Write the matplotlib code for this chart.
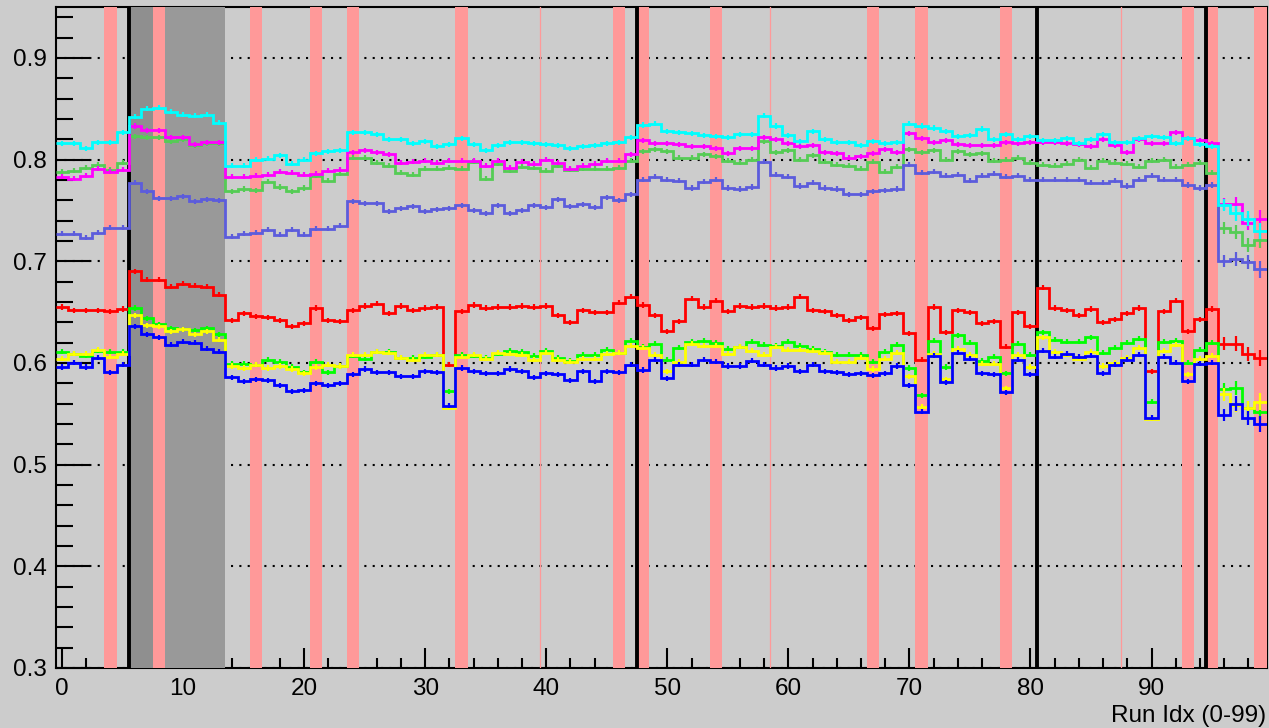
import matplotlib.pyplot as plt
import numpy as np

plt.rcParams['font.family'] = ['Liberation Sans', 'DejaVu Sans']

# run index (one bin per run)
run_idx = np.arange(100)

cyan_vals = [
    0.816, 0.816, 0.811, 0.817, 0.817, 0.827, 0.842, 0.850, 0.851, 0.847,
    0.844, 0.843, 0.844, 0.836, 0.794, 0.794, 0.800, 0.801, 0.804, 0.796,
    0.800, 0.806, 0.808, 0.809, 0.827, 0.827, 0.825, 0.820, 0.820, 0.816,
    0.818, 0.813, 0.815, 0.821, 0.815, 0.809, 0.814, 0.817, 0.817, 0.816,
    0.815, 0.814, 0.811, 0.813, 0.814, 0.816, 0.817, 0.822, 0.834, 0.835,
    0.828, 0.827, 0.826, 0.824, 0.823, 0.822, 0.825, 0.825, 0.843, 0.833,
    0.824, 0.818, 0.828, 0.820, 0.817, 0.817, 0.814, 0.818, 0.816, 0.817,
    0.835, 0.833, 0.831, 0.828, 0.823, 0.824, 0.830, 0.820, 0.825, 0.820,
    0.823, 0.819, 0.819, 0.821, 0.816, 0.820, 0.825, 0.817, 0.817, 0.821,
    0.823, 0.822, 0.816, 0.821, 0.815, 0.813, 0.755, 0.747, 0.742, 0.730,
]
magenta_vals = [
    0.783, 0.781, 0.784, 0.791, 0.788, 0.790, 0.833, 0.829, 0.829, 0.822,
    0.822, 0.815, 0.817, 0.817, 0.783, 0.783, 0.784, 0.785, 0.788, 0.787,
    0.785, 0.786, 0.789, 0.790, 0.807, 0.809, 0.807, 0.805, 0.797, 0.798,
    0.799, 0.797, 0.799, 0.799, 0.799, 0.794, 0.799, 0.792, 0.798, 0.796,
    0.800, 0.797, 0.791, 0.794, 0.796, 0.799, 0.799, 0.805, 0.819, 0.816,
    0.816, 0.815, 0.813, 0.813, 0.811, 0.806, 0.811, 0.811, 0.822, 0.820,
    0.816, 0.813, 0.814, 0.807, 0.806, 0.802, 0.803, 0.806, 0.810, 0.807,
    0.826, 0.821, 0.817, 0.819, 0.815, 0.814, 0.814, 0.814, 0.817, 0.816,
    0.817, 0.817, 0.817, 0.816, 0.815, 0.813, 0.820, 0.814, 0.807, 0.820,
    0.816, 0.816, 0.827, 0.821, 0.819, 0.816, 0.756, 0.756, 0.738, 0.742,
]
lgreen_vals = [
    0.788, 0.789, 0.792, 0.795, 0.790, 0.797, 0.823, 0.822, 0.822, 0.818,
    0.820, 0.814, 0.816, 0.816, 0.769, 0.771, 0.770, 0.778, 0.773, 0.769,
    0.772, 0.784, 0.779, 0.786, 0.802, 0.802, 0.797, 0.794, 0.787, 0.785,
    0.791, 0.791, 0.792, 0.791, 0.798, 0.781, 0.796, 0.789, 0.793, 0.792,
    0.789, 0.794, 0.790, 0.791, 0.791, 0.791, 0.792, 0.799, 0.808, 0.810,
    0.808, 0.802, 0.802, 0.805, 0.803, 0.799, 0.797, 0.800, 0.818, 0.807,
    0.809, 0.800, 0.804, 0.798, 0.795, 0.794, 0.791, 0.798, 0.788, 0.793,
    0.810, 0.807, 0.809, 0.800, 0.808, 0.805, 0.806, 0.799, 0.800, 0.802,
    0.797, 0.795, 0.794, 0.796, 0.800, 0.792, 0.799, 0.797, 0.796, 0.793,
    0.799, 0.800, 0.793, 0.795, 0.797, 0.787, 0.733, 0.729, 0.716, 0.721,
]
slate_vals = [
    0.727, 0.727, 0.723, 0.728, 0.733, 0.733, 0.777, 0.769, 0.762, 0.762,
    0.764, 0.759, 0.761, 0.760, 0.724, 0.727, 0.728, 0.731, 0.726, 0.731,
    0.726, 0.732, 0.732, 0.735, 0.759, 0.757, 0.757, 0.749, 0.752, 0.754,
    0.749, 0.751, 0.752, 0.755, 0.750, 0.747, 0.755, 0.747, 0.750, 0.755,
    0.753, 0.761, 0.754, 0.756, 0.753, 0.763, 0.760, 0.766, 0.780, 0.783,
    0.780, 0.779, 0.772, 0.778, 0.780, 0.772, 0.771, 0.773, 0.798, 0.785,
    0.783, 0.774, 0.777, 0.772, 0.771, 0.766, 0.766, 0.769, 0.770, 0.771,
    0.795, 0.787, 0.788, 0.784, 0.785, 0.779, 0.784, 0.786, 0.783, 0.784,
    0.780, 0.780, 0.780, 0.780, 0.780, 0.777, 0.777, 0.779, 0.774, 0.780,
    0.784, 0.780, 0.780, 0.775, 0.772, 0.775, 0.700, 0.702, 0.699, 0.692,
]
red_vals = [
    0.655, 0.652, 0.652, 0.652, 0.651, 0.653, 0.690, 0.682, 0.682, 0.675,
    0.678, 0.676, 0.675, 0.667, 0.642, 0.649, 0.646, 0.645, 0.642, 0.636,
    0.639, 0.654, 0.642, 0.641, 0.652, 0.656, 0.658, 0.649, 0.656, 0.652,
    0.654, 0.655, 0.598, 0.651, 0.657, 0.654, 0.655, 0.655, 0.656, 0.655,
    0.656, 0.647, 0.640, 0.652, 0.650, 0.650, 0.659, 0.665, 0.657, 0.647,
    0.631, 0.641, 0.663, 0.655, 0.661, 0.651, 0.656, 0.655, 0.656, 0.654,
    0.655, 0.665, 0.652, 0.651, 0.647, 0.642, 0.645, 0.634, 0.648, 0.649,
    0.629, 0.603, 0.655, 0.630, 0.652, 0.650, 0.639, 0.641, 0.616, 0.650,
    0.636, 0.674, 0.654, 0.652, 0.647, 0.653, 0.640, 0.643, 0.649, 0.654,
    0.592, 0.651, 0.661, 0.631, 0.643, 0.653, 0.619, 0.619, 0.609, 0.605,
]
green_vals = [
    0.611, 0.609, 0.607, 0.612, 0.611, 0.611, 0.654, 0.644, 0.638, 0.634,
    0.633, 0.632, 0.634, 0.628, 0.599, 0.599, 0.598, 0.603, 0.601, 0.596,
    0.591, 0.601, 0.591, 0.597, 0.607, 0.604, 0.611, 0.611, 0.605, 0.605,
    0.606, 0.608, 0.572, 0.608, 0.607, 0.605, 0.609, 0.612, 0.611, 0.607,
    0.612, 0.605, 0.602, 0.608, 0.608, 0.613, 0.610, 0.622, 0.616, 0.619,
    0.603, 0.615, 0.621, 0.622, 0.620, 0.614, 0.616, 0.621, 0.618, 0.617,
    0.621, 0.617, 0.614, 0.611, 0.608, 0.608, 0.608, 0.601, 0.611, 0.618,
    0.595, 0.568, 0.622, 0.596, 0.627, 0.620, 0.602, 0.606, 0.590, 0.619,
    0.608, 0.630, 0.623, 0.621, 0.621, 0.625, 0.610, 0.615, 0.620, 0.624,
    0.562, 0.621, 0.622, 0.600, 0.613, 0.620, 0.574, 0.575, 0.556, 0.552,
]
yellow_vals = [
    0.604, 0.609, 0.609, 0.613, 0.606, 0.609, 0.647, 0.637, 0.636, 0.631,
    0.633, 0.628, 0.631, 0.623, 0.597, 0.595, 0.598, 0.595, 0.597, 0.594,
    0.590, 0.596, 0.598, 0.597, 0.608, 0.608, 0.611, 0.610, 0.605, 0.603,
    0.608, 0.608, 0.556, 0.606, 0.608, 0.604, 0.610, 0.609, 0.608, 0.603,
    0.610, 0.603, 0.601, 0.604, 0.604, 0.609, 0.610, 0.617, 0.615, 0.608,
    0.592, 0.601, 0.619, 0.617, 0.617, 0.609, 0.616, 0.612, 0.608, 0.616,
    0.613, 0.613, 0.612, 0.610, 0.601, 0.601, 0.605, 0.594, 0.604, 0.610,
    0.587, 0.557, 0.609, 0.584, 0.614, 0.608, 0.599, 0.599, 0.575, 0.608,
    0.596, 0.625, 0.611, 0.608, 0.604, 0.611, 0.597, 0.600, 0.605, 0.615,
    0.545, 0.612, 0.618, 0.589, 0.604, 0.607, 0.569, 0.559, 0.556, 0.562,
]
blue_vals = [
    0.596, 0.600, 0.596, 0.605, 0.591, 0.598, 0.636, 0.628, 0.625, 0.618,
    0.621, 0.620, 0.614, 0.611, 0.586, 0.582, 0.584, 0.583, 0.578, 0.572,
    0.573, 0.580, 0.578, 0.580, 0.589, 0.594, 0.591, 0.591, 0.587, 0.587,
    0.592, 0.591, 0.558, 0.595, 0.592, 0.590, 0.590, 0.594, 0.592, 0.586,
    0.590, 0.589, 0.583, 0.592, 0.582, 0.592, 0.591, 0.598, 0.593, 0.603,
    0.585, 0.598, 0.598, 0.603, 0.601, 0.597, 0.597, 0.602, 0.598, 0.595,
    0.597, 0.592, 0.598, 0.592, 0.591, 0.589, 0.590, 0.588, 0.590, 0.597,
    0.578, 0.552, 0.607, 0.581, 0.610, 0.604, 0.590, 0.589, 0.571, 0.603,
    0.589, 0.612, 0.606, 0.609, 0.606, 0.607, 0.590, 0.598, 0.603, 0.608,
    0.546, 0.606, 0.600, 0.582, 0.599, 0.600, 0.549, 0.560, 0.546, 0.540,
]

# statistical error: small everywhere, larger for the last runs
err_main = 0.0025
err_tail = [0.006, 0.007, 0.007, 0.008]

bad_runs = [4, 8, 16, 21, 24, 33, 46, 48, 54, 67, 71, 78, 93, 95, 99]
gray_spans = [(5.5, 7.5, '#8f8f8f'), (7.5, 13.5, '#999999')]
thin_marks = [39.5, 58.5, 87.5]
boundaries = [5.5, 47.5, 80.5, 94.5]

series = [
    (lgreen_vals, '#55cc55'),
    (slate_vals, '#5c5cdc'),
    (magenta_vals, '#ff00ff'),
    (cyan_vals, '#00ffff'),
    (red_vals, '#ff0000'),
    (green_vals, '#00ff00'),
    (yellow_vals, '#ffff00'),
    (blue_vals, '#0000ff'),
]

bg = '#cccccc'
fig = plt.figure(figsize=(12.69, 7.28), dpi=100, facecolor=bg)
ax = fig.add_axes([56 / 1269, 60 / 728, 1210.5 / 1269, 661 / 728])
ax.set_facecolor(bg)

edges = np.append(run_idx - 0.5, run_idx[-1] + 0.5)

for lo, hi, c in gray_spans:
    ax.axvspan(lo, hi, color=c, lw=0, zorder=3)
for r in bad_runs:
    ax.axvspan(r - 0.5, r + 0.5, color='#ff9999', lw=0, zorder=3.1)
for xm in thin_marks:
    ax.axvline(xm, color='#ff9999', lw=0.9, zorder=3.1)
for xb in boundaries:
    ax.axvline(xb, color='black', lw=2.8, zorder=3.5)

for vals, col in series:
    yerr = np.full(len(vals), err_main)
    yerr[-len(err_tail):] = err_tail
    ax.stairs(vals, edges, color=col, lw=2.0, zorder=5, baseline=None)
    ax.errorbar(run_idx, vals, yerr=yerr, fmt='none', ecolor=col,
                elinewidth=1.6, capsize=0, zorder=5)

ax.set_xlim(-0.5, 99.5)
ax.set_ylim(0.3, 0.95)
ax.set_xticks(np.arange(0, 100, 10))
ax.set_xticks(np.arange(0, 100, 2), minor=True)
ax.set_yticks(np.arange(0.3, 0.91, 0.1))
ax.set_yticks(np.arange(0.3, 0.95, 0.02), minor=True)
ax.set_yticklabels(['0.3', '0.4', '0.5', '0.6', '0.7', '0.8', '0.9'])

ax.yaxis.grid(True, which='major', color='black', lw=1.5,
              linestyle=(0, (1, 3)))
ax.tick_params(axis='both', which='both', direction='in',
               top=False, right=False, width=1.5, labelsize=17.5,
               colors='black')
ax.tick_params(axis='x', which='major', length=14.5, pad=7)
ax.tick_params(axis='x', which='minor', length=7.2)
ax.tick_params(axis='y', which='major', length=24.5, pad=6.5)
ax.tick_params(axis='y', which='minor', length=12.2)
for s in ax.spines.values():
    s.set_linewidth(1.5)

fig.text(1266 / 1269, 1 - 722 / 728, 'Run Idx (0-99)', ha='right',
         va='baseline', fontsize=17.5)

plt.savefig('out.png', dpi=100, facecolor=bg)
plt.close()
